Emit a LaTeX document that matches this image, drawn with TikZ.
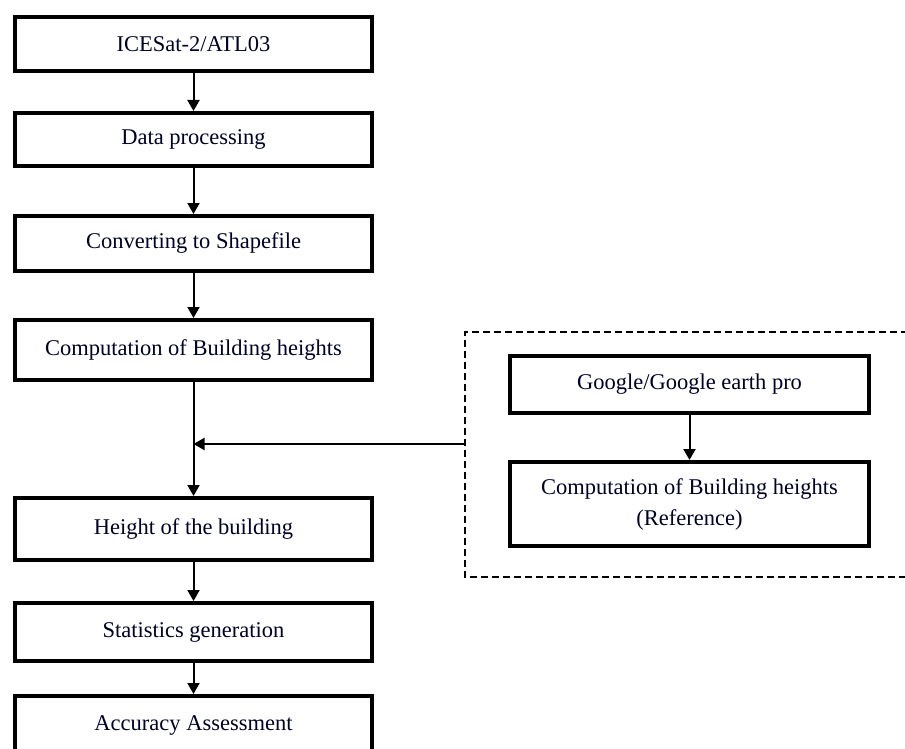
\documentclass[tikz,border=0pt]{standalone}
\usepackage{fontspec}
\setmainfont{Liberation Serif}
\usetikzlibrary{arrows.meta}
\begin{document}
\begin{tikzpicture}[x=1pt,y=-1pt,
  procbox/.style={draw=black,line width=4pt,fill=white,minimum width=357pt,inner sep=0pt,align=center,font=\fontsize{22.5}{31}\selectfont,text=black!85!blue},
  flow/.style={line width=2pt,-{Triangle[length=11pt,width=12pt]}}]
\useasboundingbox (0,0) rectangle (905,749);
\begin{scope}
\clip (0,0) rectangle (905,749);
\node[procbox,minimum height=54pt] (b1) at (193.5,44) {ICESat-2/ATL03};
\node[procbox,minimum height=53pt] (b2) at (193.5,139.5) {Data processing};
\node[procbox,minimum height=55pt] (b3) at (193.5,243.5) {Converting to Shapefile};
\node[procbox,minimum height=60pt] (b4) at (193.5,350) {Computation of Building heights};
\node[procbox,minimum height=62pt] (b5) at (193.5,529) {Height of the building};
\node[procbox,minimum height=58pt] (b6) at (193.5,632) {Statistics generation};
\node[procbox,minimum height=58pt] (b7) at (193.5,725) {Accuracy Assessment};
\node[procbox,minimum width=359pt,minimum height=57pt] (g1) at (689.5,384.5) {Google/Google earth pro};
\node[procbox,minimum width=359pt,minimum height=84pt] (g2) at (689.5,504) {Computation of Building heights\\(Reference)};
\draw[line width=1.4pt,dash pattern=on 7pt off 4pt] (930,332) -- (465,332) -- (465,577) -- (930,577);
\coordinate (dl) at (465,444);
\coordinate (jn) at (193.5,444);
\draw[flow] (b1) -- (b2);
\draw[flow] (b2) -- (b3);
\draw[flow] (b3) -- (b4);
\draw[flow] (b4) -- (b5);
\draw[flow] (dl) -- (jn);
\draw[flow] (b5) -- (b6);
\draw[flow] (b6) -- (b7);
\draw[flow] (g1) -- (g2);
\end{scope}
\end{tikzpicture}
\end{document}
